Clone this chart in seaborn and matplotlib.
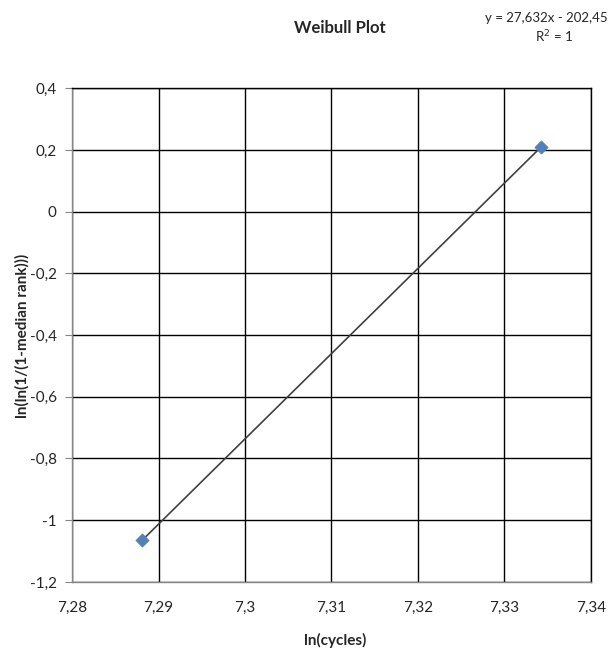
import numpy as np
import pandas as pd
import matplotlib
matplotlib.use('Agg')
import matplotlib.pyplot as plt
import seaborn as sns
from matplotlib.ticker import FuncFormatter, MultipleLocator

# data
ln_cycles = [7.2881, 7.3342]
ln_rank = [-1.0647, 0.2087]
slope = 27.632
intercept = -202.45

df = pd.DataFrame({'ln_cycles': ln_cycles, 'ln_rank': ln_rank})
df['fit'] = slope * df['ln_cycles'] + intercept

sns.set_style('white')
plt.rcParams['font.family'] = ['Lato', 'DejaVu Sans']

fig = plt.figure(figsize=(6.11, 6.59), dpi=100)
ax = fig.add_axes([0.118, 0.117, 0.849, 0.749])

# trendline
sns.lineplot(data=df, x='ln_cycles', y='fit', ax=ax, color='#404040', linewidth=1.2, zorder=3)
# data points
sns.scatterplot(data=df, x='ln_cycles', y='ln_rank', ax=ax, marker='D', s=45,
                color='#4F81BD', edgecolor='#4F81BD', zorder=4)

ax.set_xlim(7.28, 7.34)
ax.set_ylim(-1.2, 0.4)
ax.xaxis.set_major_locator(MultipleLocator(0.01))
ax.yaxis.set_major_locator(MultipleLocator(0.2))

def comma_fmt(v, pos):
    s = f'{v:.2f}'.rstrip('0').rstrip('.')
    if s == '-0':
        s = '0'
    return s.replace('.', ',')

ax.xaxis.set_major_formatter(FuncFormatter(comma_fmt))
ax.yaxis.set_major_formatter(FuncFormatter(comma_fmt))

ax.grid(True, color='black', linewidth=1.0)
ax.set_axisbelow(True)
for sp in ax.spines.values():
    sp.set_color('black')
    sp.set_linewidth(1.0)
ax.spines['left'].set_color('#868686')
ax.spines['bottom'].set_color('#868686')

ax.tick_params(axis='y', which='major', left=True, length=5, color='#868686',
               labelsize=11, pad=6)
ax.tick_params(axis='x', which='major', bottom=False, labelsize=11, pad=10)

ax.set_xlabel('')
ax.set_ylabel('')

fig.text(0.556, 0.957, 'Weibull Plot', ha='center', va='center',
         fontsize=12, fontweight='bold', color='#262626')
fig.text(0.994, 0.972, 'y = 27,632x - 202,45', ha='right', va='center',
         fontsize=9.5, color='#262626')
fig.text(0.906, 0.945, 'R$^2$ = 1', ha='center', va='center',
         fontsize=9.5, color='#262626')
fig.text(0.548, 0.028, 'ln(cycles)', ha='center', va='center',
         fontsize=11, fontweight='bold', color='#262626')
fig.text(0.036, 0.49, 'ln(ln(1/(1-median rank)))', ha='center', va='center',
         rotation=90, fontsize=11, fontweight='bold', color='#262626')

fig.savefig('out.png', dpi=100)
